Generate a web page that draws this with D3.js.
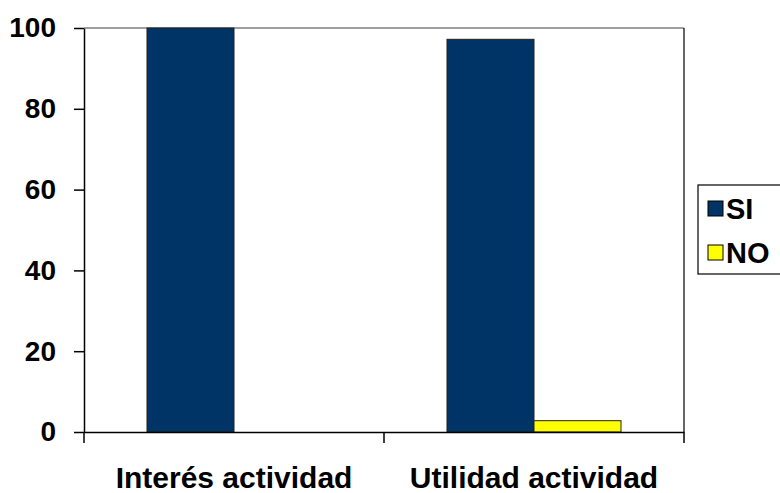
<!DOCTYPE html>
<html>
<head>
<meta charset="utf-8">
<script src="https://cdn.jsdelivr.net/npm/d3@7"></script>
<style>
  body { margin: 0; background: #fff; }
  text { font-family: Arial, "Liberation Sans", sans-serif; font-weight: bold; fill: #000; }
</style>
</head>
<body>
<div id="chart"></div>
<script>
// data
let categories = ["Interés actividad", "Utilidad actividad"];
let seriesNames = ["SI", "NO"];
let siValues = [100, 97.2];
let noValues = [0, 2.8];
let yTicks = [0, 20, 40, 60, 80, 100];

let colors = { SI: "#003366", NO: "#FFFF00" };

let svgWidth = 780;
let svgHeight = 493;

// plot area
let plot = { left: 84, right: 684, top: 28, bottom: 432 };

let svg = d3.select("#chart")
    .append("svg")
    .attr("width", svgWidth)
    .attr("height", svgHeight);

// table built from the arrays
let rows = categories.map((c, i) => ({ category: c, SI: siValues[i], NO: noValues[i] }));

let x0 = d3.scaleBand()
    .domain(categories)
    .range([plot.left, plot.right])
    .paddingInner(0)
    .paddingOuter(0);

let x1 = d3.scaleBand()
    .domain(seriesNames)
    .range([0, x0.bandwidth()])
    .paddingInner(0)
    .paddingOuter(0.724);

let y = d3.scaleLinear()
    .domain([0, 100])
    .range([plot.bottom, plot.top]);

// plot border (top gray, right dark)
svg.append("line")
    .attr("x1", plot.left).attr("x2", plot.right)
    .attr("y1", plot.top).attr("y2", plot.top)
    .attr("stroke", "#808080")
    .attr("stroke-width", 1.5);
svg.append("line")
    .attr("x1", plot.right).attr("x2", plot.right)
    .attr("y1", plot.top).attr("y2", plot.bottom)
    .attr("stroke", "#000")
    .attr("stroke-width", 1.2);

// bars
let groups = svg.append("g")
    .selectAll("g")
    .data(rows)
    .join("g")
    .attr("transform", d => `translate(${x0(d.category)},0)`);

groups.selectAll("rect")
    .data(d => seriesNames.map(s => ({ key: s, value: d[s] })).filter(e => e.value > 0))
    .join("rect")
    .attr("x", d => x1(d.key))
    .attr("width", x1.bandwidth())
    .attr("y", d => y(d.value))
    .attr("height", d => y(0) - y(d.value))
    .attr("fill", d => colors[d.key])
    .attr("stroke", "#222")
    .attr("stroke-width", 1);

// y axis
let yAxis = svg.append("g")
    .attr("transform", `translate(${plot.left},0)`)
    .call(d3.axisLeft(y).tickValues(yTicks).tickSize(10).tickSizeOuter(0).tickPadding(18).tickFormat(d3.format("d")));
yAxis.select(".domain").attr("stroke", "#000").attr("stroke-width", 1.5);
yAxis.selectAll(".tick line").attr("stroke", "#000").attr("stroke-width", 1.5);
yAxis.selectAll(".tick text")
    .style("font-size", "28px")
    .style("font-family", "Arial, 'Liberation Sans', sans-serif")
    .style("font-weight", "bold")
    .attr("fill", "#000");

// x axis
let xAxis = svg.append("g")
    .attr("transform", `translate(0,${plot.bottom})`)
    .call(d3.axisBottom(x0).tickSize(0).tickSizeOuter(0).tickPadding(35));
xAxis.select(".domain").attr("stroke", "#000").attr("stroke-width", 1.5);
xAxis.selectAll(".tick text")
    .style("font-size", "30px")
    .style("font-family", "Arial, 'Liberation Sans', sans-serif")
    .style("font-weight", "bold")
    .attr("fill", "#000");

// tick marks on category boundaries
let edges = categories.map(c => x0(c)).concat([x0(categories[categories.length - 1]) + x0.bandwidth()]);
xAxis.selectAll(".edge")
    .data(edges)
    .join("line")
    .attr("class", "edge")
    .attr("x1", d => d).attr("x2", d => d)
    .attr("y1", 0).attr("y2", 11)
    .attr("stroke", "#000")
    .attr("stroke-width", 1.5);

// legend
let legend = svg.append("g")
    .attr("transform", "translate(698,185)");
legend.append("rect")
    .attr("x", 0).attr("y", 0)
    .attr("width", 120).attr("height", 89)
    .attr("fill", "#fff")
    .attr("stroke", "#000")
    .attr("stroke-width", 1.2);

let items = legend.selectAll(".item")
    .data(seriesNames)
    .join("g")
    .attr("class", "item")
    .attr("transform", (d, i) => `translate(10,${16 + i * 44})`);
items.append("rect")
    .attr("width", 15).attr("height", 15)
    .attr("fill", d => colors[d])
    .attr("stroke", "#000")
    .attr("stroke-width", 1);
items.append("text")
    .attr("x", 18)
    .attr("y", 18)
    .style("font-size", "29px")
    .text(d => d);
</script>
</body>
</html>
